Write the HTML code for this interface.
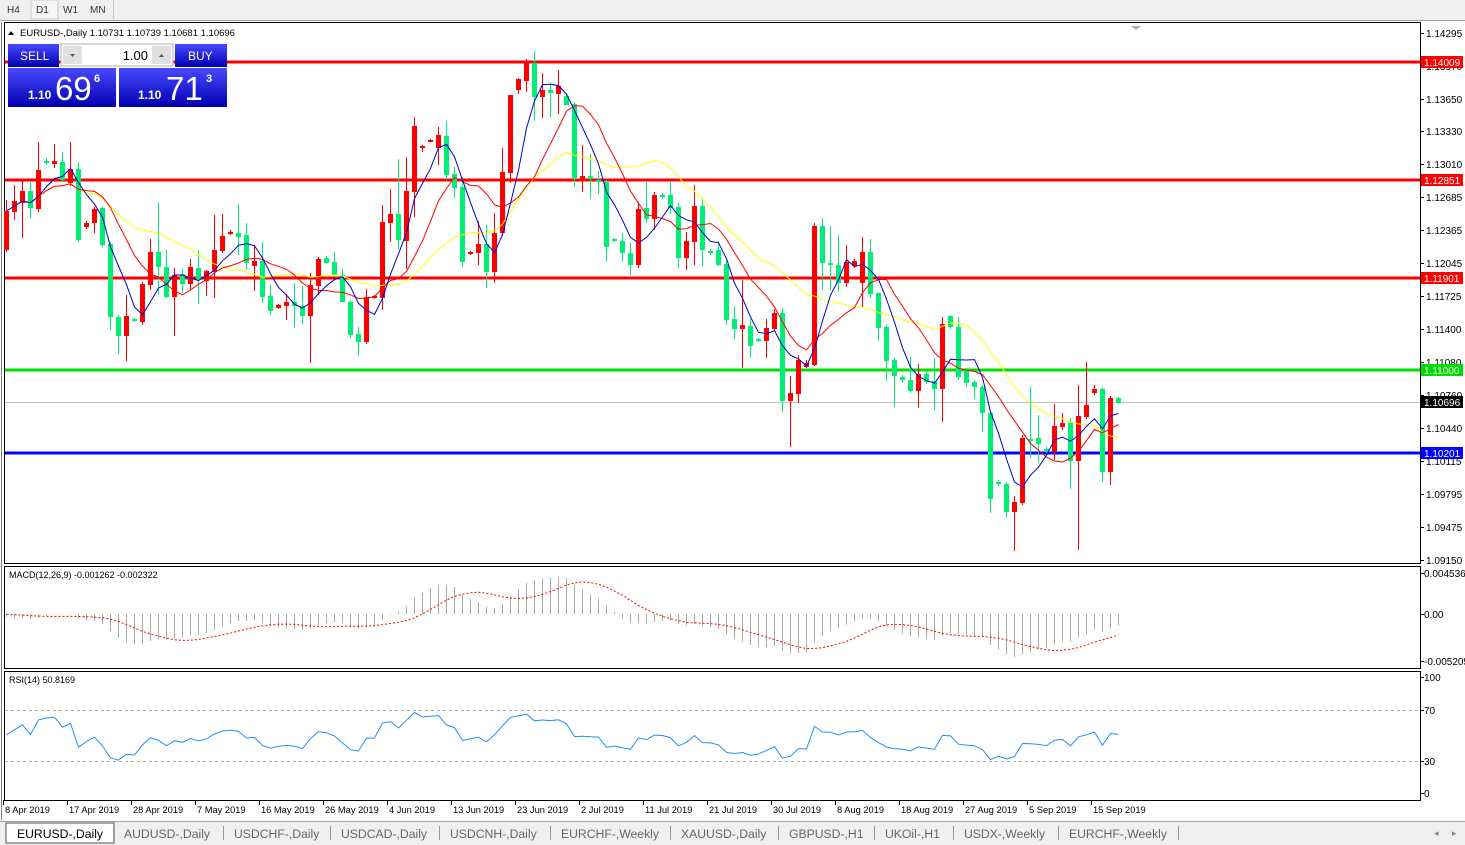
<!DOCTYPE html>
<html><head><meta charset="utf-8">
<style>
html,body{margin:0;padding:0;background:#fff;width:1465px;height:845px;overflow:hidden;font-family:"Liberation Sans",sans-serif}
svg{display:block}
</style></head>
<body>
<svg id="s" width="1465" height="845" xmlns="http://www.w3.org/2000/svg" font-family="Liberation Sans, sans-serif">
</svg>
<script>
var S=document.getElementById('s');var out=[];
function A(x){out.push(x);}
A('<rect x="0" y="0" width="1465" height="20" fill="#f0f0f0"/>');
A('<line x1="0" y1="20.5" x2="1465" y2="20.5" stroke="#a0a0a0"/>');
A('<rect x="31" y="0" width="27" height="19" fill="#f7f7f7" stroke="#c8c8c8"/>');
A('<line x1="113.5" y1="0" x2="113.5" y2="19" stroke="#c8c8c8"/>');
[['H4',7],['D1',36],['W1',63],['MN',90]].forEach(function(t){A('<text x="'+t[1]+'" y="13" font-size="10" fill="#333">'+t[0]+'</text>');});
A('<rect x="4.5" y="22.5" width="1416" height="541" fill="#fff" stroke="#000"/>');
A('<rect x="4.5" y="566.5" width="1416" height="102" fill="#fff" stroke="#000"/>');
A('<rect x="4.5" y="671.5" width="1416" height="129" fill="#fff" stroke="#000"/>');
A('<line x1="1.5" y1="22" x2="1.5" y2="820" stroke="#808080"/>');
var labs=[[1.14295,33],[1.13970,66],[1.13650,99],[1.13330,131],[1.13010,164],[1.12685,197],[1.12365,230],[1.12045,263],[1.11725,296],[1.11400,329],[1.11080,362],[1.10760,395],[1.10440,428],[1.10115,461],[1.09795,494],[1.09475,527],[1.09150,560]];
labs.forEach(function(l){A('<line x1="1420" y1="'+l[1]+'.5" x2="1424" y2="'+l[1]+'.5" stroke="#000"/><text x="1426" y="'+(l[1]+4)+'" font-size="10" fill="#000">'+l[0].toFixed(5)+'</text>');});
A('<line x1="5" y1="402.5" x2="1420" y2="402.5" stroke="#c0c0c0"/>');
[[62,'#ff0000'],[180,'#ff0000'],[278,'#ff0000'],[370,'#00e000'],[453,'#0000ff']].forEach(function(h){A('<rect x="5" y="'+(h[0]-1.5)+'" width="1415" height="3" fill="'+h[1]+'"/>');});
function tag(y,t,c){A('<rect x="1421" y="'+(y-6)+'" width="42" height="12" fill="'+c+'"/><text x="1424" y="'+(y+4)+'" font-size="10" fill="#fff">'+t+'</text>');}
tag(62,'1.14009','#ff0000');tag(180,'1.12851','#ff0000');tag(278,'1.11901','#ff0000');tag(370,'1.11000','#00dd00');tag(402,'1.10696','#000');tag(453,'1.10201','#0000ff');
A('<path d="M1131 26 L1141 26 L1136 30 Z" fill="#b0b0b0"/>');
var D=[[211,250,'r',200,252],[201,212,'r',185,220],[191,203,'r',180,238],[191,208,'g',182,218],[170,209,'r',142,212],[161,163,'g',158,165],[161,164,'r',144,168],[162,180,'g',152,182],[169,183,'r',142,186],[169,240,'g',162,242],
[223,227,'r',221,229],[209,223,'r',207,233],[208,245,'g',206,247],[244,317,'g',242,330],[317,336,'g',315,354],[316,336,'r',295,361],[319,321,'g',318,322],[284,322,'r',282,325],[252,285,'r',239,290],[252,267,'g',202,295],
[267,297,'g',250,298],[275,297,'r',268,336],[274,284,'g',269,293],[267,284,'r',259,289],[268,280,'g',250,304],[271,281,'r',270,296],[250,272,'r',215,298],[236,251,'r',214,253],[232,233,'r',230,235],[233,237,'g',204,255],
[235,263,'g',223,270],[261,266,'r',245,291],[261,297,'g',242,303],[296,311,'g',285,315],[305,308,'r',304,309],[302,306,'r',294,320],[302,306,'g',283,328],[306,316,'g',286,324],[285,316,'r',273,363],[259,286,'r',257,295],
[258,263,'g',256,264],[262,275,'g',252,277],[275,302,'g',269,302],[302,335,'g',300,338],[334,342,'g',327,356],[297,342,'r',289,344],[296,298,'r',295,299],[222,298,'r',205,310],[214,223,'r',189,242],[214,240,'g',159,249],
[191,241,'r',157,269],[126,192,'r',117,217],[146,148,'r',145,152],[140,141,'r',139,142],[135,148,'r',127,165],[136,175,'g',121,180],[174,188,'g',167,198],[187,262,'g',177,267],[252,254,'r',251,255],[244,253,'r',221,265],
[244,272,'g',225,288],[233,272,'r',213,283],[172,233,'r',148,236],[95,173,'r',95,183],[79,90,'r',78,94],[62,81,'r',59,92],[63,97,'g',51,121],[90,97,'r',73,118],[90,93,'g',82,118],[86,94,'r',70,114],
[96,105,'g',93,105],[104,178,'g',102,187],[176,179,'r',145,192],[176,179,'g',154,199],[180,181,'g',171,194],[182,247,'g',180,262],[239,241,'g',238,242],[241,253,'g',233,262],[253,265,'g',243,276],[209,265,'r',202,268],
[208,219,'g',182,223],[195,219,'r',192,230],[195,197,'g',193,199],[195,208,'g',182,214],[207,258,'g',203,268],[241,258,'r',232,270],[206,242,'r',185,265],[206,250,'g',198,266],[251,252,'g',249,255],[250,265,'g',241,266],
[264,320,'g',260,325],[319,329,'g',306,339],[325,329,'r',280,368],[326,346,'g',319,358],[339,341,'g',338,342],[328,341,'r',319,358],[313,329,'r',309,330],[313,401,'g',308,412],[393,401,'r',376,447],[360,394,'r',355,403],
[363,367,'r',360,368],[226,365,'r',223,366],[226,263,'g',218,290],[263,264,'g',226,290],[265,283,'g',235,292],[262,283,'r',245,287],[261,266,'r',259,268],[252,283,'r',237,307],[252,294,'g',239,298],[293,328,'g',310,341],
[327,361,'g',325,381],[360,376,'g',358,407],[377,380,'g',375,383],[380,391,'g',357,393],[374,391,'r',364,408],[374,382,'g',370,384],[381,389,'g',358,410],[324,389,'r',317,422],[316,327,'g',315,329],[327,377,'g',317,380],
[370,383,'g',368,387],[382,387,'g',380,399],[387,413,'g',385,432],[413,499,'g',411,513],[482,484,'g',480,486],[484,512,'g',482,518],[502,512,'r',496,551],[438,503,'r',435,505],[439,440,'g',387,458],[438,444,'g',415,463],
[449,452,'g',447,453],[426,452,'r',404,460],[423,427,'r',413,430],[423,461,'g',418,489],[416,461,'r',385,550],[405,417,'r',362,419],[389,393,'r',385,395],[389,472,'g',388,482],[398,472,'r',396,485],[398,403,'g',397,404]];
var RED='#ff0000',GRN='#00ee76';
var closes=[];
D.forEach(function(d,i){var x=6+8*i;var c=d[2]=='r'?RED:GRN;
 A('<line x1="'+(x+0.5)+'" y1="'+Math.min(d[3],d[0])+'" x2="'+(x+0.5)+'" y2="'+Math.max(d[4],d[1])+'" stroke="'+c+'"/>');
 A('<rect x="'+(x-2)+'" y="'+d[0]+'" width="5" height="'+Math.max(2,d[1]-d[0])+'" fill="'+c+'"/>');
 closes.push(d[2]=='r'?d[0]:d[1]);});
function sma(n,col){var pts=[];for(var i=0;i<closes.length;i++){var s=0,k=0;for(var j=Math.max(0,i-n+1);j<=i;j++){s+=closes[j];k++;}pts.push((6+8*i+0.5)+','+(s/k).toFixed(1));}
 A('<polyline points="'+pts.join(' ')+'" fill="none" stroke="'+col+'" stroke-width="1"/>');}
sma(20,'#ffff00');sma(10,'#ff0000');sma(5,'#0000cc');
function ema(arr,n){var a=2/(n+1),r=[],e=arr[0];for(var i=0;i<arr.length;i++){e=i==0?arr[0]:a*arr[i]+(1-a)*e;r.push(e);}return r;}
var pr=closes.map(function(y){return (1.14295-(y-33)/10243);});
var warm=[];for(var i=0;i<40;i++)warm.push(pr[0]+0.0035);
var full=warm.concat(pr);
var e12=ema(full,12),e26=ema(full,26),m=[];for(i=0;i<full.length;i++)m.push(e12[i]-e26[i]);
var sig=[];for(i=0;i<m.length;i++){var s=0,k=0;for(var j=Math.max(0,i-8);j<=i;j++){s+=m[j];k++;}sig.push(s/k);}
m=m.slice(40);sig=sig.slice(40);
var sp=[];
for(i=0;i<m.length;i++){var x=6+8*i+0.5;var y=614-m[i]*9039;y=Math.max(568,Math.min(667,y));
 A('<line x1="'+x+'" y1="614" x2="'+x+'" y2="'+y.toFixed(1)+'" stroke="#a8a8a8"/>');
 sp.push(x+','+Math.max(568,Math.min(667,614-sig[i]*9039)).toFixed(1));}
A('<polyline points="'+sp.join(' ')+'" fill="none" stroke="#ff0000" stroke-dasharray="2,2"/>');
A('<text x="9" y="578" font-size="9" fill="#000">MACD(12,26,9) -0.001262 -0.002322</text>');
[['0.004536',573],['0.00',614],['-0.005205',661]].forEach(function(l){A('<line x1="1420" y1="'+l[1]+'.5" x2="1424" y2="'+l[1]+'.5" stroke="#000"/><text x="1424" y="'+(l[1]+4)+'" font-size="10">'+l[0]+'</text>');});
var rp=[];var ag=0.0004,al=0.0004;
for(i=0;i<pr.length;i++){var ch=i==0?0:pr[i]-pr[i-1];var g=ch>0?ch:0,l=ch<0?-ch:0;
 ag=(ag*13+g)/14;al=(al*13+l)/14;
 var rsi=al==0?100:100-100/(1+ag/al);
 rp.push((6+8*i+0.5)+','+(793-rsi*1.16).toFixed(1));}
A('<line x1="5" y1="710.5" x2="1420" y2="710.5" stroke="#b0b0b0" stroke-dasharray="3,3"/>');
A('<line x1="5" y1="761.5" x2="1420" y2="761.5" stroke="#b0b0b0" stroke-dasharray="3,3"/>');
A('<polyline points="'+rp.join(' ')+'" fill="none" stroke="#1e90ff"/>');
A('<text x="9" y="683" font-size="9">RSI(14) 50.8169</text>');
[['100',677],['70',710],['30',761],['0',793]].forEach(function(l){A('<line x1="1420" y1="'+l[1]+'.5" x2="1424" y2="'+l[1]+'.5" stroke="#000"/><text x="1424" y="'+(l[1]+4)+'" font-size="10">'+l[0]+'</text>');});
var dts=['8 Apr 2019','17 Apr 2019','28 Apr 2019','7 May 2019','16 May 2019','26 May 2019','4 Jun 2019','13 Jun 2019','23 Jun 2019','2 Jul 2019','11 Jul 2019','21 Jul 2019','30 Jul 2019','8 Aug 2019','18 Aug 2019','27 Aug 2019','5 Sep 2019','15 Sep 2019'];
dts.forEach(function(t,i){var x=5+64*i;A('<line x1="'+(x-1.5)+'" y1="800" x2="'+(x-1.5)+'" y2="805" stroke="#000"/><text x="'+x+'" y="813" font-size="9.3">'+t+'</text>');});
A('<path d="M8 35 L14 35 L11 31 Z" fill="#000"/><text x="20" y="36" font-size="9.5">EURUSD-,Daily  1.10731 1.10739 1.10681 1.10696</text>');
A('<defs><linearGradient id="bg" x1="0" y1="0" x2="0" y2="1"><stop offset="0" stop-color="#4848ff"/><stop offset="1" stop-color="#0000b0"/></linearGradient></defs>');
A('<rect x="8" y="44" width="51" height="23" fill="url(#bg)"/><text x="20" y="60" font-size="12" fill="#fff">SELL</text>');
A('<rect x="175" y="44" width="52" height="23" fill="url(#bg)"/><text x="188" y="60" font-size="12" fill="#fff">BUY</text>');
A('<rect x="61" y="44" width="112" height="22" fill="#fff" stroke="#b0b0b0"/><rect x="63" y="46" width="19" height="18" fill="#e0e0e0"/><rect x="152" y="46" width="19" height="18" fill="#e0e0e0"/><path d="M70 54 L75 54 L72.5 57Z" fill="#556"/><path d="M159 57 L164 57 L161.5 54Z" fill="#556"/><text x="148" y="60" font-size="13" text-anchor="end">1.00</text>');
A('<rect x="8" y="68" width="108" height="39" fill="url(#bg)"/><rect x="119" y="68" width="108" height="39" fill="url(#bg)"/>');
A('<text x="28" y="99" font-size="12" fill="#fff" font-weight="bold">1.10</text><text x="55" y="100" font-size="33" fill="#fff">69</text><text x="94" y="82" font-size="11" fill="#fff" font-weight="bold">6</text>');
A('<text x="138" y="99" font-size="12" fill="#fff" font-weight="bold">1.10</text><text x="166" y="100" font-size="33" fill="#fff">71</text><text x="206" y="82" font-size="11" fill="#fff" font-weight="bold">3</text>');
A('<rect x="0" y="821" width="1465" height="24" fill="#f0f0f0"/><line x1="0" y1="821.5" x2="1465" y2="821.5" stroke="#a0a0a0"/>');
A('<rect x="6" y="823" width="108" height="20" fill="#fff" stroke="#555"/>');
var tabs=[['EURUSD-,Daily',17],['AUDUSD-,Daily',124],['USDCHF-,Daily',234],['USDCAD-,Daily',341],['USDCNH-,Daily',450],['EURCHF-,Weekly',561],['XAUUSD-,Daily',681],['GBPUSD-,H1',789],['UKOil-,H1',885],['USDX-,Weekly',964],['EURCHF-,Weekly',1069]];
tabs.forEach(function(t,i){A('<text x="'+t[1]+'" y="838" font-size="12.2" fill="'+(i==0?'#000':'#666')+'">'+t[0]+'</text>');if(i>0)A('<line x1="'+(t[1]-10.5)+'" y1="826" x2="'+(t[1]-10.5)+'" y2="840" stroke="#999"/>');});
A('<line x1="1178.5" y1="826" x2="1178.5" y2="840" stroke="#999"/><text x="1434" y="836" font-size="9" fill="#888">◂</text><text x="1452" y="836" font-size="9" fill="#888">▸</text>');
S.innerHTML=out.join('');
</script>
</body></html>
